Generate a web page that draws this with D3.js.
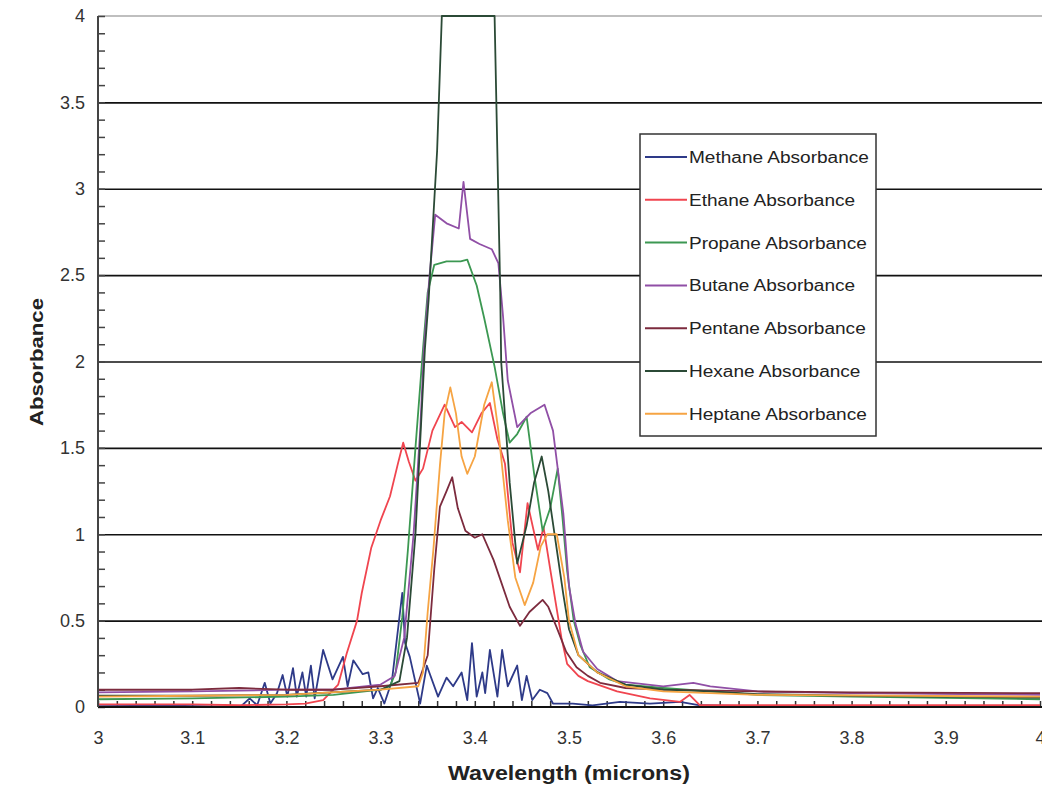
<!doctype html>
<html>
<head>
<meta charset="utf-8">
<style>
    body { margin: 0; background: #fff; }
    text { font-family: Arial, "Liberation Sans", sans-serif; }
</style>
</head>
<body>

<div id="container"></div>

<script src="https://d3js.org/d3.v7.min.js"></script>
<script type="text/javascript">

    // wavelength (microns), absorbance
    var methane = [[3.0,0.005],[3.076,0.008],[3.151,0.0],[3.161,0.05],[3.169,0.01],[3.177,0.14],[3.183,0.02],[3.19,0.08],
        [3.196,0.185],[3.201,0.06],[3.207,0.225],[3.211,0.06],[3.217,0.2],[3.221,0.06],[3.226,0.24],[3.23,0.05],
        [3.239,0.33],[3.249,0.16],[3.26,0.29],[3.265,0.12],[3.271,0.27],[3.281,0.19],[3.287,0.2],[3.292,0.05],
        [3.297,0.11],[3.304,0.02],[3.312,0.15],[3.323,0.66],[3.326,0.37],[3.331,0.29],[3.342,0.02],[3.349,0.24],
        [3.361,0.06],[3.37,0.17],[3.377,0.12],[3.386,0.2],[3.392,0.04],[3.397,0.37],[3.402,0.06],[3.408,0.2],
        [3.411,0.08],[3.416,0.33],[3.424,0.06],[3.429,0.33],[3.435,0.12],[3.445,0.24],[3.45,0.04],[3.455,0.18],
        [3.461,0.04],[3.469,0.1],[3.477,0.08],[3.483,0.02],[3.504,0.02],[3.525,0.01],[3.554,0.03],[3.586,0.02],
        [3.618,0.03],[3.639,0.01],[3.692,0.005],[4.0,0.005]];

    var ethane = [[3.0,0.015],[3.1,0.015],[3.15,0.01],[3.2,0.015],[3.22,0.02],[3.239,0.04],[3.255,0.13],[3.264,0.31],
        [3.275,0.5],[3.28,0.66],[3.29,0.92],[3.3,1.08],[3.31,1.22],[3.318,1.4],[3.324,1.53],[3.33,1.42],[3.337,1.31],
        [3.345,1.38],[3.355,1.6],[3.368,1.75],[3.379,1.62],[3.386,1.65],[3.397,1.59],[3.407,1.7],[3.416,1.76],
        [3.424,1.55],[3.432,1.41],[3.44,0.95],[3.448,0.78],[3.456,1.18],[3.467,0.91],[3.473,1.04],[3.48,0.8],
        [3.486,0.6],[3.492,0.4],[3.498,0.25],[3.51,0.18],[3.52,0.15],[3.551,0.09],[3.586,0.05],[3.618,0.03],
        [3.628,0.07],[3.639,0.01],[3.7,0.01],[4.0,0.01]];

    var propane = [[3.0,0.045],[3.1,0.05],[3.2,0.06],[3.25,0.07],[3.3,0.1],[3.31,0.12],[3.316,0.2],[3.323,0.52],
        [3.329,0.91],[3.337,1.5],[3.345,2.07],[3.35,2.4],[3.357,2.56],[3.37,2.58],[3.385,2.58],[3.392,2.59],
        [3.402,2.44],[3.41,2.25],[3.421,1.97],[3.43,1.7],[3.437,1.53],[3.445,1.58],[3.455,1.68],[3.463,1.35],
        [3.472,1.02],[3.48,1.15],[3.488,1.38],[3.493,1.1],[3.498,0.79],[3.505,0.5],[3.512,0.36],[3.522,0.23],
        [3.543,0.16],[3.56,0.13],[3.6,0.11],[3.65,0.09],[3.7,0.07],[3.8,0.06],[4.0,0.045]];

    var butane = [[3.0,0.085],[3.1,0.09],[3.2,0.1],[3.25,0.1],[3.3,0.13],[3.315,0.18],[3.325,0.4],[3.335,1.0],
        [3.342,1.6],[3.346,2.07],[3.352,2.5],[3.358,2.85],[3.37,2.8],[3.383,2.77],[3.388,3.04],[3.395,2.71],
        [3.405,2.68],[3.418,2.65],[3.425,2.57],[3.43,2.26],[3.435,1.89],[3.445,1.62],[3.452,1.66],[3.459,1.7],
        [3.474,1.75],[3.483,1.6],[3.494,1.12],[3.5,0.7],[3.507,0.48],[3.515,0.32],[3.53,0.22],[3.551,0.15],
        [3.6,0.12],[3.632,0.14],[3.65,0.12],[3.7,0.09],[3.8,0.08],[4.0,0.07]];

    var pentane = [[3.0,0.1],[3.1,0.1],[3.15,0.11],[3.2,0.1],[3.25,0.1],[3.3,0.12],[3.34,0.14],[3.35,0.3],
        [3.357,0.8],[3.363,1.16],[3.37,1.25],[3.376,1.33],[3.382,1.15],[3.39,1.02],[3.4,0.98],[3.408,1.0],
        [3.42,0.85],[3.437,0.58],[3.448,0.47],[3.458,0.55],[3.472,0.62],[3.478,0.58],[3.487,0.46],[3.497,0.32],
        [3.508,0.23],[3.52,0.18],[3.533,0.14],[3.56,0.11],[3.6,0.1],[3.7,0.09],[3.8,0.085],[4.0,0.08]];

    var hexane = [[3.0,0.065],[3.1,0.065],[3.2,0.07],[3.3,0.1],[3.32,0.15],[3.328,0.4],[3.337,1.0],[3.347,2.07],
        [3.351,2.36],[3.36,3.22],[3.365,4.0],[3.421,4.0],[3.427,2.4],[3.428,2.0],[3.437,1.3],[3.445,0.83],
        [3.455,1.05],[3.463,1.3],[3.471,1.45],[3.478,1.25],[3.486,0.95],[3.494,0.65],[3.5,0.45],[3.51,0.3],
        [3.53,0.2],[3.56,0.13],[3.6,0.1],[3.65,0.09],[3.7,0.075],[3.8,0.065],[4.0,0.055]];

    var heptane = [[3.0,0.06],[3.1,0.065],[3.2,0.07],[3.3,0.1],[3.34,0.12],[3.345,0.2],[3.35,0.55],[3.356,0.91],
        [3.363,1.4],[3.368,1.7],[3.374,1.85],[3.38,1.7],[3.386,1.45],[3.392,1.35],[3.4,1.45],[3.41,1.75],
        [3.418,1.88],[3.425,1.6],[3.435,1.08],[3.443,0.75],[3.453,0.59],[3.462,0.72],[3.47,0.93],[3.477,1.0],
        [3.487,1.0],[3.495,0.75],[3.5,0.5],[3.51,0.3],[3.53,0.2],[3.56,0.12],[3.6,0.09],[3.65,0.08],[3.7,0.07],
        [4.0,0.06]];

    var seriesNames = ["Methane Absorbance", "Ethane Absorbance", "Propane Absorbance", "Butane Absorbance",
        "Pentane Absorbance", "Hexane Absorbance", "Heptane Absorbance"];
    var seriesData = [methane, ethane, propane, butane, pentane, hexane, heptane];
    var seriesColors = ["#2e3a88", "#f0454f", "#3c9852", "#904fa6", "#7c2b3e", "#2b4a36", "#f6a443"];

    var xTicks = [3, 3.1, 3.2, 3.3, 3.4, 3.5, 3.6, 3.7, 3.8, 3.9, 4];
    var xTickLabels = ["3", "3.1", "3.2", "3.3", "3.4", "3.5", "3.6", "3.7", "3.8", "3.9", "4"];
    var yTicks = [0, 0.5, 1, 1.5, 2, 2.5, 3, 3.5, 4];
    var yTickLabels = ["0", "0.5", "1", "1.5", "2", "2.5", "3", "3.5", "4"];

    var width = 1042, height = 788;
    var margin = {top: 16, right: 2, bottom: 81, left: 98};
    var innerwidth = width - margin.left - margin.right,
        innerheight = height - margin.top - margin.bottom;

    var svg = d3.select("#container").append("svg")
        .attr("width", width)
        .attr("height", height);

    var g = svg.append("g")
        .attr("transform", "translate(" + margin.left + "," + margin.top + ")");

    var x_scale = d3.scaleLinear().domain([3, 4]).range([0, innerwidth]);
    var y_scale = d3.scaleLinear().domain([0, 4]).range([innerheight, 0]);

    // horizontal grid
    var y_grid = d3.axisLeft(y_scale)
        .tickValues(yTicks.filter(function (d) { return d > 0 && d < 4; }))
        .tickSize(-(width - margin.left))
        .tickFormat("");
    g.append("g")
        .attr("class", "y grid")
        .call(y_grid)
        .call(function (s) { s.select(".domain").remove(); })
        .selectAll("line")
        .attr("stroke", "#111")
        .attr("stroke-width", 1.6);

    g.append("line")
        .attr("x1", 0).attr("x2", width - margin.left)
        .attr("y1", y_scale(4)).attr("y2", y_scale(4))
        .attr("stroke", "#aaa")
        .attr("stroke-width", 1.5);

    // minor ticks, pointing into the plot
    var x_minor = d3.axisTop(x_scale)
        .tickValues(d3.range(0, 51).map(function (i) { return 3 + i * 0.02; }))
        .tickSize(6)
        .tickFormat("");
    g.append("g")
        .attr("transform", "translate(0," + innerheight + ")")
        .call(x_minor)
        .call(function (s) { s.select(".domain").remove(); })
        .selectAll("line")
        .attr("stroke", "#333")
        .attr("stroke-width", 1.5);

    var y_minor = d3.axisRight(y_scale)
        .tickValues(d3.range(0, 41).map(function (i) { return i * 0.1; }))
        .tickSize(7)
        .tickFormat("");
    g.append("g")
        .call(y_minor)
        .call(function (s) { s.select(".domain").remove(); })
        .selectAll("line")
        .attr("stroke", "#444")
        .attr("stroke-width", 1.5);

    // series
    var draw_line = d3.line()
        .x(function (d) { return x_scale(d[0]); })
        .y(function (d) { return y_scale(d[1]); });

    g.selectAll(".series")
        .data(seriesData)
        .enter().append("path")
        .attr("class", "series")
        .attr("d", draw_line)
        .attr("fill", "none")
        .attr("stroke", function (_, i) { return seriesColors[i]; })
        .attr("stroke-width", 1.8)
        .attr("stroke-linejoin", "round");

    // axis lines
    g.append("line")
        .attr("x1", 0).attr("x2", width - margin.left)
        .attr("y1", innerheight).attr("y2", innerheight)
        .attr("stroke", "#111")
        .attr("stroke-width", 2);
    g.append("line")
        .attr("x1", 0).attr("x2", 0)
        .attr("y1", 0).attr("y2", innerheight)
        .attr("stroke", "#444")
        .attr("stroke-width", 2);

    // tick labels
    var x_axis = d3.axisBottom(x_scale)
        .tickValues(xTicks)
        .tickSize(0)
        .tickPadding(24)
        .tickFormat(function (d, i) { return xTickLabels[i]; });
    g.append("g")
        .attr("transform", "translate(0," + innerheight + ")")
        .call(x_axis)
        .call(function (s) { s.select(".domain").remove(); })
        .selectAll("text")
        .attr("fill", "#333")
        .style("font-size", "18px")
        .style("font-family", "Arial, 'Liberation Sans', sans-serif");

    var y_axis = d3.axisLeft(y_scale)
        .tickValues(yTicks)
        .tickSize(0)
        .tickPadding(13)
        .tickFormat(function (d, i) { return yTickLabels[i]; });
    g.append("g")
        .call(y_axis)
        .call(function (s) { s.select(".domain").remove(); })
        .selectAll("text")
        .attr("fill", "#333")
        .style("font-size", "18px")
        .style("font-family", "Arial, 'Liberation Sans', sans-serif");

    // axis titles
    svg.append("text")
        .attr("x", margin.left + x_scale(3.5))
        .attr("y", 780)
        .attr("text-anchor", "middle")
        .attr("textLength", 242)
        .attr("lengthAdjust", "spacingAndGlyphs")
        .style("font-size", "20px")
        .style("font-weight", "bold")
        .attr("fill", "#222")
        .text("Wavelength (microns)");

    svg.append("text")
        .attr("transform", "translate(43,362) rotate(-90)")
        .attr("text-anchor", "middle")
        .attr("textLength", 128)
        .attr("lengthAdjust", "spacingAndGlyphs")
        .style("font-size", "19px")
        .style("font-weight", "bold")
        .attr("fill", "#222")
        .text("Absorbance");

    // legend
    var legend = svg.append("g")
        .attr("transform", "translate(640,134)");
    legend.append("rect")
        .attr("width", 236)
        .attr("height", 302)
        .attr("fill", "#fff")
        .attr("stroke", "#333")
        .attr("stroke-width", 1.5);

    var rows = legend.selectAll(".row")
        .data(seriesNames)
        .enter().append("g")
        .attr("class", "row")
        .attr("transform", function (_, i) { return "translate(0," + (23 + i * 42.8) + ")"; });
    rows.append("line")
        .attr("x1", 5).attr("x2", 47)
        .attr("stroke", function (_, i) { return seriesColors[i]; })
        .attr("stroke-width", 2);
    rows.append("text")
        .attr("transform", "translate(49,6) scale(1.19,1)")
        .style("font-size", "16px")
        .attr("fill", "#222")
        .text(function (d) { return d; });

</script>
</body>
</html>
